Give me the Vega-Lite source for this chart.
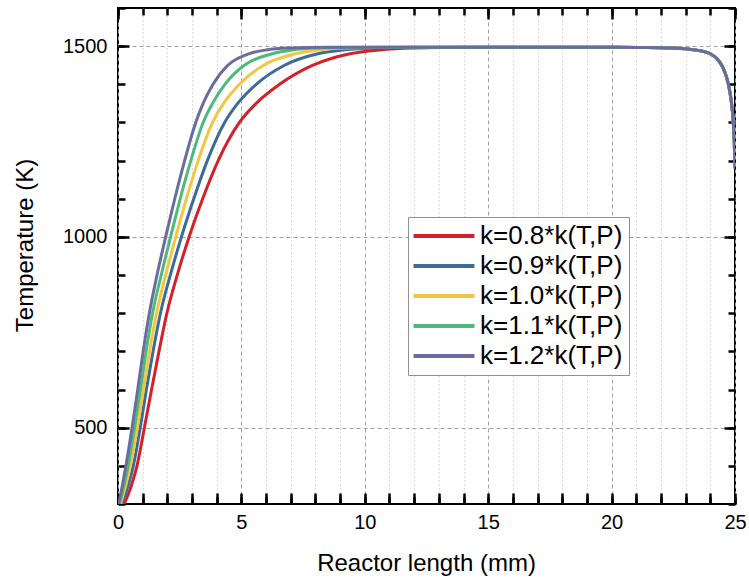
{
  "$schema": "https://vega.github.io/schema/vega-lite/v6.json",
  "width": 617,
  "height": 496,
  "autosize": {"type": "none"},
  "padding": {"left": 118, "top": 8, "right": 14, "bottom": 79},
  "config": {
    "font": "Liberation Sans",
    "view": {"stroke": "black", "strokeWidth": 2},
    "axis": {"domain": false, "labelColor": "black", "titleColor": "black", "labelFont": "Liberation Sans", "titleFont": "Liberation Sans", "titleFontWeight": "normal"},
    "legend": {"labelFont": "Liberation Sans"}
  },
  "data": {"values": [
    {"k":"k=0.8*k(T,P)","x":0.25,"T":300},{"k":"k=0.8*k(T,P)","x":0.55,"T":350},{"k":"k=0.8*k(T,P)","x":0.77,"T":400},{"k":"k=0.8*k(T,P)","x":1.07,"T":500},{"k":"k=0.8*k(T,P)","x":1.36,"T":600},{"k":"k=0.8*k(T,P)","x":1.66,"T":700},{"k":"k=0.8*k(T,P)","x":1.98,"T":800},{"k":"k=0.8*k(T,P)","x":2.4,"T":900},{"k":"k=0.8*k(T,P)","x":2.88,"T":1000},{"k":"k=0.8*k(T,P)","x":3.43,"T":1100},{"k":"k=0.8*k(T,P)","x":4.06,"T":1200},{"k":"k=0.8*k(T,P)","x":4.92,"T":1300},{"k":"k=0.8*k(T,P)","x":5.6,"T":1350},{"k":"k=0.8*k(T,P)","x":6.55,"T":1400},{"k":"k=0.8*k(T,P)","x":7.9,"T":1450},{"k":"k=0.8*k(T,P)","x":9.4,"T":1480},{"k":"k=0.8*k(T,P)","x":10.6,"T":1490},{"k":"k=0.8*k(T,P)","x":12.0,"T":1495},{"k":"k=0.8*k(T,P)","x":14.0,"T":1497},
    {"k":"k=0.8*k(T,P)","x":15,"T":1497},{"k":"k=0.8*k(T,P)","x":20,"T":1497},{"k":"k=0.8*k(T,P)","x":21,"T":1496.5},{"k":"k=0.8*k(T,P)","x":22,"T":1496},{"k":"k=0.8*k(T,P)","x":22.5,"T":1495},{"k":"k=0.8*k(T,P)","x":23,"T":1493},{"k":"k=0.8*k(T,P)","x":23.5,"T":1489},{"k":"k=0.8*k(T,P)","x":24,"T":1480},{"k":"k=0.8*k(T,P)","x":24.3,"T":1465},{"k":"k=0.8*k(T,P)","x":24.5,"T":1445},{"k":"k=0.8*k(T,P)","x":24.65,"T":1420},{"k":"k=0.8*k(T,P)","x":24.75,"T":1395},{"k":"k=0.8*k(T,P)","x":24.85,"T":1355},{"k":"k=0.8*k(T,P)","x":24.92,"T":1310},{"k":"k=0.8*k(T,P)","x":24.97,"T":1250},{"k":"k=0.8*k(T,P)","x":25,"T":1180},

    {"k":"k=0.9*k(T,P)","x":0.15,"T":300},{"k":"k=0.9*k(T,P)","x":0.42,"T":350},{"k":"k=0.9*k(T,P)","x":0.62,"T":400},{"k":"k=0.9*k(T,P)","x":0.9,"T":500},{"k":"k=0.9*k(T,P)","x":1.15,"T":600},{"k":"k=0.9*k(T,P)","x":1.42,"T":700},{"k":"k=0.9*k(T,P)","x":1.72,"T":800},{"k":"k=0.9*k(T,P)","x":2.12,"T":900},{"k":"k=0.9*k(T,P)","x":2.57,"T":1000},{"k":"k=0.9*k(T,P)","x":3.07,"T":1100},{"k":"k=0.9*k(T,P)","x":3.62,"T":1200},{"k":"k=0.9*k(T,P)","x":4.32,"T":1300},{"k":"k=0.9*k(T,P)","x":4.85,"T":1350},{"k":"k=0.9*k(T,P)","x":5.6,"T":1400},{"k":"k=0.9*k(T,P)","x":6.75,"T":1450},{"k":"k=0.9*k(T,P)","x":8.1,"T":1480},{"k":"k=0.9*k(T,P)","x":9.1,"T":1490},{"k":"k=0.9*k(T,P)","x":10.4,"T":1495},{"k":"k=0.9*k(T,P)","x":12.0,"T":1497},
    {"k":"k=0.9*k(T,P)","x":15,"T":1497},{"k":"k=0.9*k(T,P)","x":20,"T":1497},{"k":"k=0.9*k(T,P)","x":21,"T":1496.5},{"k":"k=0.9*k(T,P)","x":22,"T":1496},{"k":"k=0.9*k(T,P)","x":22.5,"T":1495},{"k":"k=0.9*k(T,P)","x":23,"T":1493},{"k":"k=0.9*k(T,P)","x":23.5,"T":1489},{"k":"k=0.9*k(T,P)","x":24,"T":1480},{"k":"k=0.9*k(T,P)","x":24.3,"T":1465},{"k":"k=0.9*k(T,P)","x":24.5,"T":1445},{"k":"k=0.9*k(T,P)","x":24.65,"T":1420},{"k":"k=0.9*k(T,P)","x":24.75,"T":1395},{"k":"k=0.9*k(T,P)","x":24.85,"T":1355},{"k":"k=0.9*k(T,P)","x":24.92,"T":1310},{"k":"k=0.9*k(T,P)","x":24.97,"T":1250},{"k":"k=0.9*k(T,P)","x":25,"T":1180},

    {"k":"k=1.0*k(T,P)","x":0.1,"T":300},{"k":"k=1.0*k(T,P)","x":0.32,"T":350},{"k":"k=1.0*k(T,P)","x":0.5,"T":400},{"k":"k=1.0*k(T,P)","x":0.78,"T":500},{"k":"k=1.0*k(T,P)","x":1.03,"T":600},{"k":"k=1.0*k(T,P)","x":1.28,"T":700},{"k":"k=1.0*k(T,P)","x":1.56,"T":800},{"k":"k=1.0*k(T,P)","x":1.93,"T":900},{"k":"k=1.0*k(T,P)","x":2.34,"T":1000},{"k":"k=1.0*k(T,P)","x":2.77,"T":1100},{"k":"k=1.0*k(T,P)","x":3.25,"T":1200},{"k":"k=1.0*k(T,P)","x":3.83,"T":1300},{"k":"k=1.0*k(T,P)","x":4.28,"T":1350},{"k":"k=1.0*k(T,P)","x":4.92,"T":1400},{"k":"k=1.0*k(T,P)","x":5.9,"T":1450},{"k":"k=1.0*k(T,P)","x":7.2,"T":1480},{"k":"k=1.0*k(T,P)","x":8.1,"T":1490},{"k":"k=1.0*k(T,P)","x":9.3,"T":1495},{"k":"k=1.0*k(T,P)","x":11.0,"T":1497},
    {"k":"k=1.0*k(T,P)","x":15,"T":1497},{"k":"k=1.0*k(T,P)","x":20,"T":1497},{"k":"k=1.0*k(T,P)","x":21,"T":1496.5},{"k":"k=1.0*k(T,P)","x":22,"T":1496},{"k":"k=1.0*k(T,P)","x":22.5,"T":1495},{"k":"k=1.0*k(T,P)","x":23,"T":1493},{"k":"k=1.0*k(T,P)","x":23.5,"T":1489},{"k":"k=1.0*k(T,P)","x":24,"T":1480},{"k":"k=1.0*k(T,P)","x":24.3,"T":1465},{"k":"k=1.0*k(T,P)","x":24.5,"T":1445},{"k":"k=1.0*k(T,P)","x":24.65,"T":1420},{"k":"k=1.0*k(T,P)","x":24.75,"T":1395},{"k":"k=1.0*k(T,P)","x":24.85,"T":1355},{"k":"k=1.0*k(T,P)","x":24.92,"T":1310},{"k":"k=1.0*k(T,P)","x":24.97,"T":1250},{"k":"k=1.0*k(T,P)","x":25,"T":1180},

    {"k":"k=1.1*k(T,P)","x":0.06,"T":300},{"k":"k=1.1*k(T,P)","x":0.25,"T":350},{"k":"k=1.1*k(T,P)","x":0.41,"T":400},{"k":"k=1.1*k(T,P)","x":0.67,"T":500},{"k":"k=1.1*k(T,P)","x":0.91,"T":600},{"k":"k=1.1*k(T,P)","x":1.14,"T":700},{"k":"k=1.1*k(T,P)","x":1.4,"T":800},{"k":"k=1.1*k(T,P)","x":1.75,"T":900},{"k":"k=1.1*k(T,P)","x":2.13,"T":1000},{"k":"k=1.1*k(T,P)","x":2.52,"T":1100},{"k":"k=1.1*k(T,P)","x":2.95,"T":1200},{"k":"k=1.1*k(T,P)","x":3.45,"T":1300},{"k":"k=1.1*k(T,P)","x":3.83,"T":1350},{"k":"k=1.1*k(T,P)","x":4.33,"T":1400},{"k":"k=1.1*k(T,P)","x":5.12,"T":1450},{"k":"k=1.1*k(T,P)","x":6.25,"T":1480},{"k":"k=1.1*k(T,P)","x":7.05,"T":1490},{"k":"k=1.1*k(T,P)","x":8.1,"T":1495},{"k":"k=1.1*k(T,P)","x":10.0,"T":1497},
    {"k":"k=1.1*k(T,P)","x":15,"T":1497},{"k":"k=1.1*k(T,P)","x":20,"T":1497},{"k":"k=1.1*k(T,P)","x":21,"T":1496.5},{"k":"k=1.1*k(T,P)","x":22,"T":1496},{"k":"k=1.1*k(T,P)","x":22.5,"T":1495},{"k":"k=1.1*k(T,P)","x":23,"T":1493},{"k":"k=1.1*k(T,P)","x":23.5,"T":1489},{"k":"k=1.1*k(T,P)","x":24,"T":1480},{"k":"k=1.1*k(T,P)","x":24.3,"T":1465},{"k":"k=1.1*k(T,P)","x":24.5,"T":1445},{"k":"k=1.1*k(T,P)","x":24.65,"T":1420},{"k":"k=1.1*k(T,P)","x":24.75,"T":1395},{"k":"k=1.1*k(T,P)","x":24.85,"T":1355},{"k":"k=1.1*k(T,P)","x":24.92,"T":1310},{"k":"k=1.1*k(T,P)","x":24.97,"T":1250},{"k":"k=1.1*k(T,P)","x":25,"T":1180},

    {"k":"k=1.2*k(T,P)","x":0.03,"T":300},{"k":"k=1.2*k(T,P)","x":0.18,"T":350},{"k":"k=1.2*k(T,P)","x":0.32,"T":400},{"k":"k=1.2*k(T,P)","x":0.57,"T":500},{"k":"k=1.2*k(T,P)","x":0.8,"T":600},{"k":"k=1.2*k(T,P)","x":1.02,"T":700},{"k":"k=1.2*k(T,P)","x":1.27,"T":800},{"k":"k=1.2*k(T,P)","x":1.58,"T":900},{"k":"k=1.2*k(T,P)","x":1.93,"T":1000},{"k":"k=1.2*k(T,P)","x":2.3,"T":1100},{"k":"k=1.2*k(T,P)","x":2.7,"T":1200},{"k":"k=1.2*k(T,P)","x":3.15,"T":1300},{"k":"k=1.2*k(T,P)","x":3.45,"T":1350},{"k":"k=1.2*k(T,P)","x":3.85,"T":1400},{"k":"k=1.2*k(T,P)","x":4.45,"T":1450},{"k":"k=1.2*k(T,P)","x":5.3,"T":1480},{"k":"k=1.2*k(T,P)","x":6.0,"T":1490},{"k":"k=1.2*k(T,P)","x":7.0,"T":1495},{"k":"k=1.2*k(T,P)","x":8.5,"T":1497},
    {"k":"k=1.2*k(T,P)","x":15,"T":1497},{"k":"k=1.2*k(T,P)","x":20,"T":1497},{"k":"k=1.2*k(T,P)","x":21,"T":1496.5},{"k":"k=1.2*k(T,P)","x":22,"T":1496},{"k":"k=1.2*k(T,P)","x":22.5,"T":1495},{"k":"k=1.2*k(T,P)","x":23,"T":1493},{"k":"k=1.2*k(T,P)","x":23.5,"T":1489},{"k":"k=1.2*k(T,P)","x":24,"T":1480},{"k":"k=1.2*k(T,P)","x":24.3,"T":1465},{"k":"k=1.2*k(T,P)","x":24.5,"T":1445},{"k":"k=1.2*k(T,P)","x":24.65,"T":1420},{"k":"k=1.2*k(T,P)","x":24.75,"T":1395},{"k":"k=1.2*k(T,P)","x":24.85,"T":1355},{"k":"k=1.2*k(T,P)","x":24.92,"T":1310},{"k":"k=1.2*k(T,P)","x":24.97,"T":1250},{"k":"k=1.2*k(T,P)","x":25,"T":1180}
  ]},
  "layer": [
    {
      "mark": {"type": "point", "opacity": 0},
      "encoding": {
        "x": {"field": "x", "type": "quantitative", "scale": {"domain": [0, 25], "nice": false, "zero": false},
          "axis": {"orient": "top", "values": [0,1,2,3,4,5,6,7,8,9,10,11,12,13,14,15,16,17,18,19,20,21,22,23,24,25], "labels": false, "title": null, "ticks": true, "tickSize": -7, "tickColor": "#000000", "tickWidth": 2.5, "grid": false}},
        "y": {"field": "T", "type": "quantitative", "scale": {"domain": [300, 1600], "nice": false, "zero": false},
          "axis": {"orient": "right", "values": [300,400,500,600,700,800,900,1000,1100,1200,1300,1400,1500,1600], "labels": false, "title": null, "ticks": true, "tickSize": -7, "tickColor": "#000000", "tickWidth": 2.5, "grid": false}}
      }
    },
    {
      "mark": {"type": "point", "opacity": 0},
      "encoding": {
        "x": {"field": "x", "type": "quantitative", "scale": {"domain": [0, 25], "nice": false, "zero": false},
          "axis": {"orient": "top", "values": [0,5,10,15,20,25], "labels": false, "title": null, "ticks": true, "tickSize": -11, "tickColor": "#000000", "tickWidth": 2.5, "grid": false}},
        "y": {"field": "T", "type": "quantitative", "scale": {"domain": [300, 1600], "nice": false, "zero": false},
          "axis": {"orient": "right", "values": [500,1000,1500], "labels": false, "title": null, "ticks": true, "tickSize": -11, "tickColor": "#000000", "tickWidth": 2.5, "grid": false}}
      }
    },
    {
      "mark": {"type": "point", "opacity": 0},
      "encoding": {
        "x": {"field": "x", "type": "quantitative", "scale": {"domain": [0, 25], "nice": false, "zero": false},
          "axis": {"orient": "bottom", "values": [0,1,2,3,4,5,6,7,8,9,10,11,12,13,14,15,16,17,18,19,20,21,22,23,24,25], "labels": false, "title": null, "ticks": true, "tickSize": -7, "tickColor": "#000000", "tickWidth": 2.5, "grid": false}},
        "y": {"field": "T", "type": "quantitative", "scale": {"domain": [300, 1600], "nice": false, "zero": false},
          "axis": {"orient": "left", "values": [300,400,500,600,700,800,900,1000,1100,1200,1300,1400,1500,1600], "labels": false, "title": null, "ticks": true, "tickSize": -7, "tickColor": "#000000", "tickWidth": 2.5, "grid": false}}
      }
    },
    {
      "mark": {"type": "line", "strokeWidth": 3, "interpolate": "monotone", "clip": true},
      "encoding": {
        "x": {"field": "x", "type": "quantitative", "scale": {"domain": [0, 25], "nice": false, "zero": false},
          "axis": {"orient": "bottom", "values": [0,1,2,3,4,5,6,7,8,9,10,11,12,13,14,15,16,17,18,19,20,21,22,23,24,25], "format": "d",
            "labelExpr": "datum.value % 5 === 0 ? datum.label : ''", "ticks": true, "tickSize": -11, "tickColor": "#000000", "tickWidth": 2.5,
            "labelPadding": 19, "labelFontSize": 20, "labelFlush": false, "labelOverlap": false,
            "grid": true, "gridWidth": 1,
            "gridDash": {"condition": {"test": "datum.value % 5 === 0", "value": [4, 3]}, "value": [1, 3]},
            "gridColor": {"condition": {"test": "datum.value % 5 === 0", "value": "#a0a0a0"}, "value": "#b8b8b8"},
            "title": "Reactor length (mm)", "titleFontSize": 24, "titleX": 308, "titleY": 66, "titleBaseline": "alphabetic"}},
        "y": {"field": "T", "type": "quantitative", "scale": {"domain": [300, 1600], "nice": false, "zero": false},
          "axis": {"orient": "left", "values": [500,1000,1500], "format": "d", "ticks": true, "tickSize": -11, "tickColor": "#000000", "tickWidth": 2.5,
            "labelPadding": 22, "labelFontSize": 20,
            "grid": true, "gridDash": [4, 3], "gridColor": "#a0a0a0", "gridWidth": 1,
            "title": "Temperature (K)", "titleFontSize": 24, "titleX": -86, "titleY": 237, "titleBaseline": "alphabetic", "titleAngle": -90, "titleAlign": "center"}},
        "color": {"field": "k", "type": "nominal",
          "scale": {"domain": ["k=0.8*k(T,P)","k=0.9*k(T,P)","k=1.0*k(T,P)","k=1.1*k(T,P)","k=1.2*k(T,P)"], "range": ["#d42028","#3d6a98","#f2c641","#4dba7c","#6a6b9e"]},
          "legend": {"orient": "none", "legendX": 290, "legendY": 209, "title": null, "symbolType": "M-4.35,0H4.35", "symbolSize": 196, "symbolStrokeWidth": 4,
            "labelFontSize": 26, "labelColor": "black", "strokeColor": "#909090", "fillColor": "white", "padding": 6, "rowPadding": 4, "symbolOffset": 17, "labelOffset": 23}}
      }
    }
  ],
  "resolve": {"axis": {"x": "independent", "y": "independent"}}
}
